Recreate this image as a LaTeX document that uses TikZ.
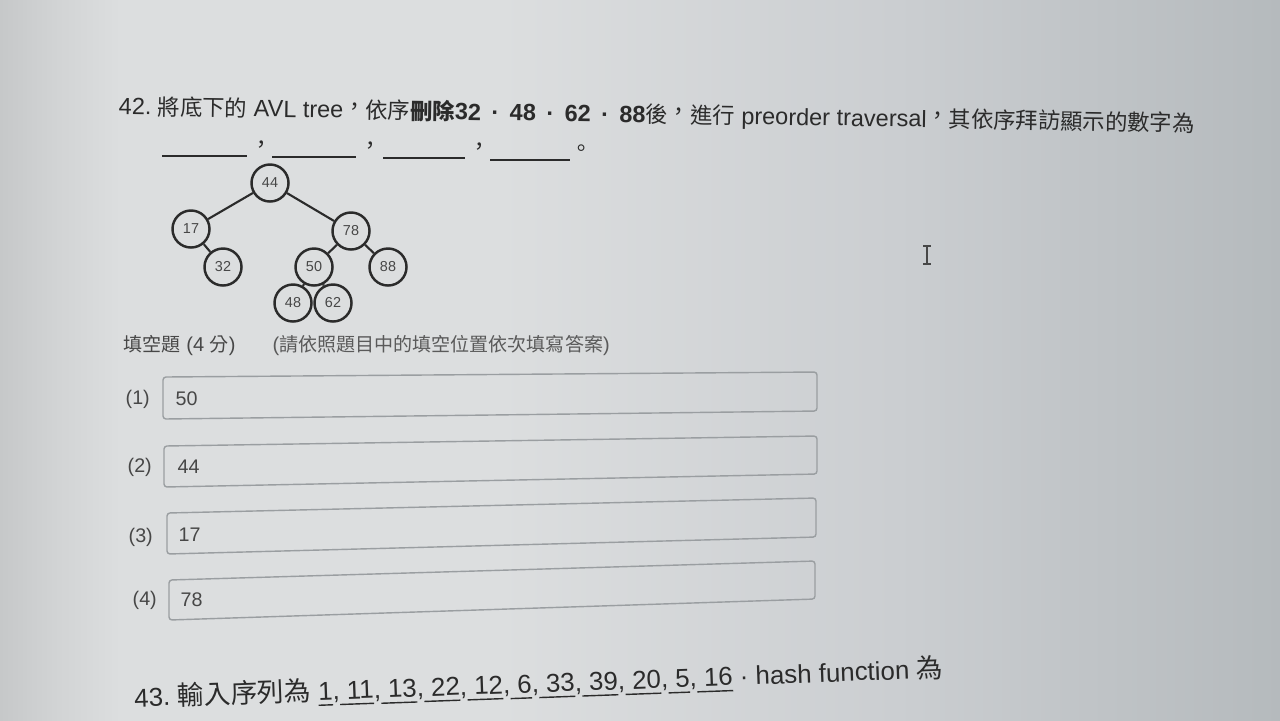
\documentclass[tikz,border=0pt]{standalone}
\usepackage{fontspec}
\setmainfont{Liberation Sans}
\newfontfamily\cjk{Noto Sans CJK TC}[Scale=0.95]
\usetikzlibrary{calc}

\definecolor{ink}{HTML}{2B2B2B}
\definecolor{softink}{HTML}{474747}
\definecolor{paleink}{HTML}{5A5A5A}
\definecolor{boxline}{HTML}{9A9EA1}
\definecolor{scrA}{HTML}{C6C8C9}
\definecolor{scrB}{HTML}{D2D4D5}
\definecolor{scrC}{HTML}{DCDEDF}
\definecolor{scrD}{HTML}{CBCED1}
\definecolor{scrE}{HTML}{B5BABD}
\pgfdeclarehorizontalshading{screen}{100bp}{color(0bp)=(scrA); color(25bp)=(scrA);
  color(27.3bp)=(scrB); color(29.7bp)=(scrC); color(44.5bp)=(scrC);
  color(60bp)=(scrD); color(75bp)=(scrE); color(100bp)=(scrE)}

\newcommand{\ulnum}[1]{\underline{\ #1}}
\newcommand{\zc}{\raisebox{0.14em}{\cjk ，}}
\newcommand{\sepdot}{\ \,·\,\ }

\tikzset{
  avl/.style={circle, draw=ink, line width=0.7pt, minimum size=0.37cm, inner sep=0pt,
    text=softink, font=\fontsize{4.1}{5}\selectfont},
  avledge/.style={ink, line width=0.6pt},
  blank/.style={ink, line width=0.5pt},
  punct/.style={text=ink, font=\cjk\fontsize{6.6}{8}\selectfont, inner sep=0pt},
  ansbox/.style={boxline, line width=0.4pt, rounded corners=0.03cm},
  anslabel/.style={anchor=west, inner sep=0pt, text=softink, font=\fontsize{5.6}{7}\selectfont},
}

\begin{document}
\begin{tikzpicture}[x=0.01cm, y=-0.01cm]
    \useasboundingbox (0,0) rectangle (1280,720);
    \shade[shading=screen] (0,0) rectangle (1280,720);

    % question 42
    \node[anchor=base west, inner sep=0pt, rotate=-0.9, text=ink, font=\fontsize{6.68}{8}\selectfont] (q42) at (118,114.5)
      {42.\ {\cjk 將底下的} AVL tree\zc{\cjk 依序}\textbf{{\cjk 刪除}32\sepdot 48\sepdot 62\sepdot 88}{\cjk 後}\zc{\cjk 進行} preorder traversal\zc{\cjk 其依序拜訪顯示的數字為}};

    \draw[blank] (162,156) -- (247,156);
    \draw[blank] (272,157) -- (356,157);
    \draw[blank] (383,158) -- (465,158);
    \draw[blank] (490,160) -- (570,160);
    \node[punct] (c1) at (262,147) {，};
    \node[punct] (c2) at (371,148) {，};
    \node[punct] (c3) at (480,149) {，};
    \node[punct] (c4) at (582,151) {。};

    % tree
    \node[avl] (n44) at (270,183) {44};
    \node[avl] (n17) at (191,229) {17};
    \node[avl] (n78) at (351,231) {78};
    \node[avl] (n32) at (223,267) {32};
    \node[avl] (n50) at (314,267) {50};
    \node[avl] (n88) at (388,267) {88};
    \node[avl] (n48) at (293,303) {48};
    \node[avl] (n62) at (333,303) {62};

    \draw[avledge] (n44) -- (n17);
    \draw[avledge] (n44) -- (n78);
    \draw[avledge] (n17) -- (n32);
    \draw[avledge] (n78) -- (n50);
    \draw[avledge] (n78) -- (n88);
    \draw[avledge] (n50) -- (n48);
    \draw[avledge] (n50) -- (n62);

    % answers
    \node[anchor=west, inner sep=0pt, text=softink, font=\fontsize{5.7}{7}\selectfont] (score) at (123,345) {{\cjk 填空題} (4 {\cjk 分})};
    \node[anchor=west, inner sep=0pt, text=paleink, font=\fontsize{5.7}{7}\selectfont] (hint) at (272,345) {({\cjk 請依照題目中的填空位置依次填寫答案})};

    \draw[ansbox] (163,377) -- (817,372) -- (817,411) -- (163,419) -- cycle;
    \draw[ansbox] (164,446) -- (817,436) -- (817,474) -- (164,487) -- cycle;
    \draw[ansbox] (167,513) -- (816,498) -- (816,537) -- (167,554) -- cycle;
    \draw[ansbox] (169,580) -- (815,561) -- (815,599) -- (169,620) -- cycle;

    \node[anslabel] (l1) at (125,399) {(1)};
    \node[anslabel] (l2) at (127,467) {(2)};
    \node[anslabel] (l3) at (128,537) {(3)};
    \node[anslabel] (l4) at (132,600) {(4)};
    \node[anslabel] (a1) at (175,399) {50};
    \node[anslabel] (a2) at (177,467) {44};
    \node[anslabel] (a3) at (178,535) {17};
    \node[anslabel] (a4) at (180,600) {78};

    % text cursor
    \draw[softink, line width=0.45pt] (927,246) -- (927,264) (923,246) -- (931,246) (923,264) -- (931,264);

    % question 43
    \node[anchor=base west, inner sep=0pt, rotate=2.07, text=ink, font=\fontsize{7.35}{9}\selectfont] (q43) at (134,707)
      {43.\ {\cjk\fontsize{8}{9}\selectfont 輸入序列為} \underline{1},\ulnum{11},\ulnum{13},\ulnum{22},\ulnum{12},\ulnum{6},\ulnum{33},\ulnum{39},\ulnum{20},\ulnum{5},\ulnum{16}\ ·\ hash function {\cjk\fontsize{8}{9}\selectfont 為}};
\end{tikzpicture}
\end{document}
